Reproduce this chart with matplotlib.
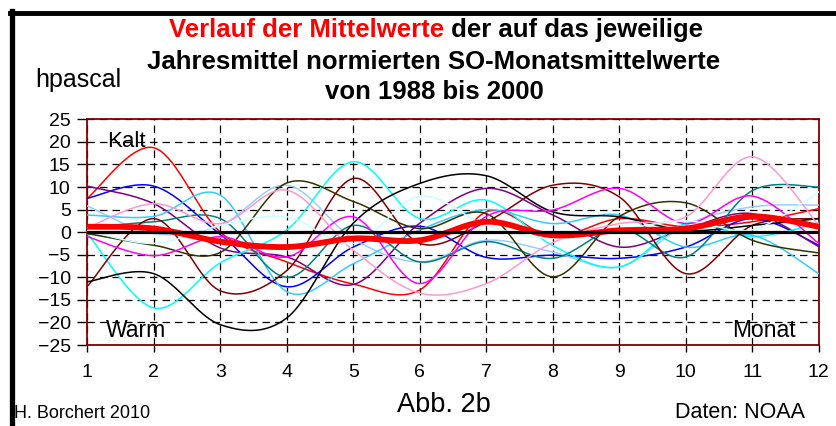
import numpy as np
import matplotlib
matplotlib.use("Agg")
import matplotlib.pyplot as plt
from matplotlib.lines import Line2D

# ─────────────────────────────────────────────
# Daten (hPa)
# ─────────────────────────────────────────────
months = list(range(1, 13))

y_red      = [7.5, 18.7, 0.0, -6.6, -11.5, -12.8, 4.5, -1.0, 3.0, 1.2, 2.3, 5.2]
y_blue     = [7.5, 10.2, -0.5, -12.1, -3.3, 1.3, -5.6, -5.1, -5.8, -3.3, 3.0, -2.9]
y_purple   = [10.2, 6.3, -3.5, -5.5, -11.6, 2.0, 9.7, 3.8, -3.3, 0.8, 4.1, -3.2]
y_ltblue   = [5.8, -0.3, 1.5, 10.4, -1.5, -6.6, -1.8, -4.4, -7.7, 1.6, 5.6, 6.0]
y_cyan     = [-0.3, -16.8, -6.8, 0.5, 15.6, 3.0, 7.1, -3.0, -7.7, 1.9, -1.0, 2.0]
y_sky      = [3.8, 3.5, 8.2, -13.2, -7.0, 0.5, 5.0, 1.9, 3.8, -3.3, -0.7, -9.2]
y_teal     = [1.0, 2.3, 3.0, -10.0, 1.5, -6.6, -2.1, -5.8, 0.8, -5.5, 9.2, 10.0]
y_maroon   = [-12.0, 3.0, -13.0, -8.5, 11.9, -2.5, 2.3, 10.4, 7.8, -9.2, 1.5, 3.0]
y_olive    = [-0.3, -2.9, -4.5, 10.9, 6.8, 0.8, 4.1, -9.9, 3.5, 6.5, -1.8, -4.6]
y_black    = [-11.0, -9.2, -20.5, -19.0, 2.0, 10.8, 12.5, 4.5, 3.4, 0.4, 1.5, 3.0]
y_magenta  = [-1.0, -5.2, -1.0, -5.5, 3.4, -11.4, 3.5, 4.9, 9.7, 1.9, 8.0, -2.5]
y_pink     = [1.0, 6.3, 1.9, 9.3, -4.0, -13.5, -11.4, -2.3, 1.9, 3.4, 16.7, 1.5]
y_ltturq   = [0.4, -2.5, 1.5, 3.4, -2.5, 8.0, 1.5, -1.4, 0.5, 2.5, 0.5, 8.9]

y_mean     = [1.2, 0.8, -2.1, -3.3, -1.4, -1.8, 2.3, -0.7, 0.4, 0.8, 3.5, 1.2]

year_lines = [
    (y_red, "#FF0000"),
    (y_blue, "#0000FF"),
    (y_purple, "#800080"),
    (y_ltblue, "#99CCFF"),
    (y_cyan, "#00FFFF"),
    (y_sky, "#33CCFF"),
    (y_teal, "#008080"),
    (y_maroon, "#800000"),
    (y_olive, "#333300"),
    (y_black, "#000000"),
    (y_magenta, "#FF00FF"),
    (y_pink, "#FF99CC"),
    (y_ltturq, "#CCFFFF"),
]

ARIAL = ["Liberation Sans", "DejaVu Sans"]


def smooth(x, y, n=24):
    """Excel-artige geglaettete Linie (Catmull-Rom)"""
    x = np.asarray(x, float)
    y = np.asarray(y, float)
    px = np.concatenate([[x[0]], x, [x[-1]]])
    py = np.concatenate([[y[0]], y, [y[-1]]])
    xs, ys = [], []
    t = np.linspace(0, 1, n, endpoint=False)
    for i in range(1, len(px) - 2):
        for arr, out in ((px, xs), (py, ys)):
            p0, p1, p2, p3 = arr[i - 1], arr[i], arr[i + 1], arr[i + 2]
            m1 = (p2 - p0) / 2
            m2 = (p3 - p1) / 2
            h00 = 2 * t**3 - 3 * t**2 + 1
            h10 = t**3 - 2 * t**2 + t
            h01 = -2 * t**3 + 3 * t**2
            h11 = t**3 - t**2
            out.extend(h00 * p1 + h10 * m1 + h01 * p2 + h11 * m2)
    xs.append(x[-1])
    ys.append(y[-1])
    return np.array(xs), np.array(ys)


W, H = 837, 426
fig = plt.figure(figsize=(W / 100, H / 100), dpi=100)
fig.patch.set_facecolor("white")

ax = fig.add_axes([87.3 / W, 1 - 345 / H, (818.8 - 87.3) / W, (345 - 119.3) / H])

for vals, col in year_lines:
    sx, sy = smooth(months, vals)
    ax.plot(sx, sy, color=col, lw=1.1, zorder=3)

mx, my = smooth(months, y_mean)
ax.plot(mx, my, color="#FF0000", lw=4.2, zorder=4, solid_capstyle="butt")
ax.axhline(0, color="black", lw=2.3, zorder=5)

ax.set_xlim(1, 12)
ax.set_ylim(-25, 25)
ax.set_xticks(months)
ax.set_yticks(range(-25, 30, 5))
ax.tick_params(axis="both", labelsize=14, colors="black", length=5, width=1)
for lab in ax.get_xticklabels() + ax.get_yticklabels():
    lab.set_family(ARIAL)
ax.tick_params(axis="x", pad=9)
ax.tick_params(axis="y", length=7, pad=5)

ax.grid(True, color="black", linestyle=(0, (6, 4)), linewidth=0.9, zorder=1)
for s in ax.spines.values():
    s.set_color("#800000")
    s.set_linewidth(1.3)

ax.text(1.30, 20, "Kalt", fontsize=16, family=ARIAL, va="center", ha="left", zorder=6)
ax.text(1.28, -21.8, "Warm", fontsize=16.5, family=ARIAL, va="center", ha="left", zorder=6)
ax.text(11.65, -21.8, "Monat", fontsize=16.5, family=ARIAL, va="center", ha="right", zorder=6)


# Titel
def fy(py):
    return 1 - py / H


t_red = fig.text(0, fy(30), "Verlauf der Mittelwerte", color="#FF0000", fontsize=18.5,
                 fontweight="bold", family=ARIAL, va="center", ha="left")
t_blk = fig.text(0, fy(30), " der auf das jeweilige", color="black", fontsize=18.5,
                 fontweight="bold", family=ARIAL, va="center", ha="left")
renderer = fig.canvas.get_renderer()
w_red = t_red.get_window_extent(renderer).width
w_blk = t_blk.get_window_extent(renderer).width
x0 = 436 - (w_red + w_blk) / 2
t_red.set_x(x0 / W)
t_blk.set_x((x0 + w_red) / W)

fig.text(434 / W, fy(62), "Jahresmittel normierten SO-Monatsmittelwerte", fontsize=18.5,
         fontweight="bold", family=ARIAL, ha="center", va="center")
fig.text(434 / W, fy(92), "von 1988 bis 2000", fontsize=18.5,
         fontweight="bold", family=ARIAL, ha="center", va="center")
fig.text(35 / W, fy(80), "hpascal", fontsize=18, family=ARIAL, ha="left", va="center")

fig.text(444 / W, fy(405), "Abb. 2b", fontsize=19.5, family=ARIAL, ha="center", va="center")
fig.text(14 / W, fy(414), "H. Borchert 2010", fontsize=13, family=ARIAL, ha="left", va="center")
fig.text(805 / W, fy(413), "Daten: NOAA", fontsize=15.5, family=ARIAL, ha="right", va="center")

# aeusserer Rahmen
fig.add_artist(Line2D([10 / W, 1.01], [fy(13), fy(13)], color="black", lw=3.5,
                      transform=fig.transFigure))
fig.add_artist(Line2D([12 / W, 12 / W], [fy(11), -0.01], color="black", lw=3.8,
                      transform=fig.transFigure))

fig.savefig("out.png", dpi=100)
